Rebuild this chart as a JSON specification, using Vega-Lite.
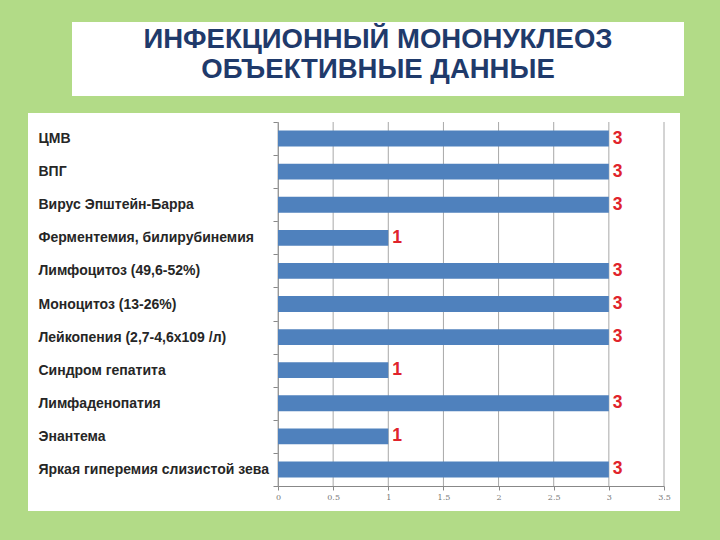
{
  "$schema": "https://vega.github.io/schema/vega-lite/v6.json",
  "background": "#b2db87",
  "padding": {"left": 28, "top": 22, "right": 36, "bottom": 30},
  "config": {"view": {"stroke": null}},
  "spacing": 10,
  "vconcat": [
    {
      "spacing": 0,
      "hconcat": [
        {
          "width": 44,
          "height": 74,
          "view": {"fill": null, "stroke": null},
          "data": {"values": [{"s": 1}]},
          "mark": {"type": "point", "opacity": 0}
        },
        {
          "width": 612,
          "height": 74,
          "view": {"fill": "white", "stroke": null},
          "data": {"values": [
            {"t": "ИНФЕКЦИОННЫЙ МОНОНУКЛЕОЗ", "r": 1},
            {"t": "ОБЪЕКТИВНЫЕ ДАННЫЕ", "r": 2}
          ]},
          "mark": {"type": "text", "font": "Liberation Sans", "fontWeight": "bold", "fontSize": 27.5, "color": "#1f3a6b", "baseline": "middle", "align": "center"},
          "encoding": {
            "y": {"field": "r", "type": "ordinal", "scale": {"type": "point", "range": [18, 48], "padding": 0}, "axis": null},
            "text": {"field": "t"}
          }
        }
      ]
    },
    {
      "width": 652,
      "height": 398,
      "view": {"fill": "white", "stroke": null},
      "data": {"values": [
        {"name": "ЦМВ", "v": 3},
        {"name": "ВПГ", "v": 3},
        {"name": "Вирус Эпштейн-Барра", "v": 3},
        {"name": "Ферментемия, билирубинемия", "v": 1},
        {"name": "Лимфоцитоз (49,6-52%)", "v": 3},
        {"name": "Моноцитоз (13-26%)", "v": 3},
        {"name": "Лейкопения (2,7-4,6х109 /л)", "v": 3},
        {"name": "Синдром гепатита", "v": 1},
        {"name": "Лимфаденопатия", "v": 3},
        {"name": "Энантема", "v": 1},
        {"name": "Яркая гиперемия слизистой зева", "v": 3}
      ]},
      "resolve": {"scale": {"y": "independent"}, "axis": {"y": "independent"}},
      "layer": [
        {
          "data": {"values": [{"t": 0}, {"t": 0.5}, {"t": 1}, {"t": 1.5}, {"t": 2}, {"t": 2.5}, {"t": 3}, {"t": 3.5}]},
          "mark": {"type": "rule", "color": "#a8a8a8", "strokeWidth": 1},
          "encoding": {
            "x": {
              "field": "t", "type": "quantitative",
              "scale": {"domain": [0, 3.5], "range": [250, 636]},
              "axis": {
                "values": [0, 0.5, 1, 1.5, 2, 2.5, 3, 3.5], "format": "~g", "offset": -25, "title": null, "grid": false,
                "domainColor": "#888888", "tickColor": "#888888", "tickSize": 4,
                "labelFontSize": 8, "labelColor": "#777777", "labelFont": "DejaVu Serif",
                "labelFlush": false, "labelOverlap": false, "labelPadding": 3
              }
            },
            "y": {"datum": 0, "type": "quantitative", "scale": {"domain": [0, 1], "range": [9, 373]}, "axis": null},
            "y2": {"datum": 1}
          }
        },
        {
          "layer": [
            {
              "mark": {"type": "bar", "color": "#4f81bd", "height": {"band": 0.48}},
              "encoding": {
                "x": {
                  "field": "v", "type": "quantitative",
                  "axis": {
                    "values": [0, 0.5, 1, 1.5, 2, 2.5, 3, 3.5], "format": "~g", "offset": -25, "title": null, "grid": false,
                    "domainColor": "#888888", "tickColor": "#888888", "tickSize": 4,
                    "labelFontSize": 8, "labelColor": "#777777", "labelFont": "DejaVu Serif",
                    "labelFlush": false, "labelOverlap": false, "labelPadding": 3
                  }
                },
                "y": {
                  "field": "name", "type": "nominal", "sort": null,
                  "scale": {"range": [9, 373], "paddingInner": 0, "paddingOuter": 0},
                  "axis": {
                    "offset": -250, "title": null, "grid": false, "tickBand": "extent",
                    "domainColor": "#888888", "tickColor": "#888888", "tickSize": 5,
                    "labelAlign": "left", "labelPadding": 235, "labelFont": "Liberation Sans",
                    "labelFontWeight": "bold", "labelFontSize": 14, "labelColor": "#262626", "labelLimit": 300
                  }
                }
              }
            },
            {
              "mark": {"type": "text", "align": "left", "baseline": "middle", "dx": 4, "fontSize": 17.5, "fontWeight": "bold", "font": "Liberation Sans", "color": "#e0232b"},
              "encoding": {
                "x": {"field": "v", "type": "quantitative"},
                "y": {"field": "name", "type": "nominal", "sort": null},
                "text": {"field": "v"}
              }
            }
          ]
        }
      ]
    }
  ]
}
